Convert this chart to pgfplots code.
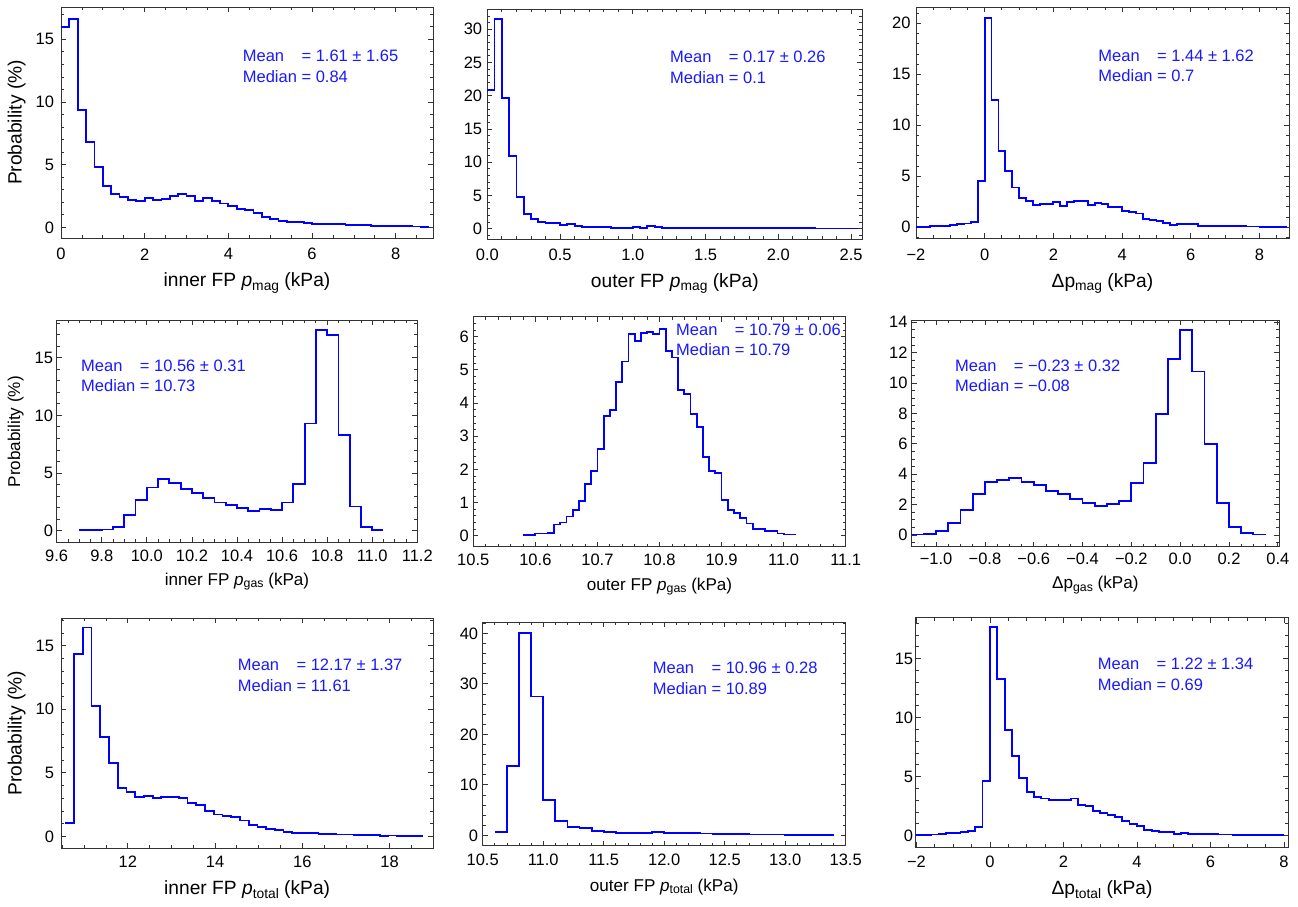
\documentclass[border=0pt]{standalone}
\usepackage{fontspec}
\setmainfont{Liberation Sans}
\usepackage{graphicx}
\usepackage{pgfplots}
\pgfplotsset{compat=1.18}
\definecolor{hblue}{RGB}{0,0,255}
\definecolor{tblue}{RGB}{25,25,255}
\newcommand{\sub}[1]{\raisebox{-0.3ex}{\scalebox{0.72}{#1}}}
\newcommand{\tk}{\fontsize{16.5}{19}\selectfont}
\newcommand{\lbA}{\fontsize{19.2}{23}\selectfont}
\newcommand{\lbB}{\fontsize{17.1}{20}\selectfont}
\tikzset{ann/.style={anchor=west, inner sep=0pt, text=tblue, font=\fontsize{16.5}{20.5}\selectfont}}
\pgfplotsset{
  hist/.style={
    scale only axis, clip=false,
    axis line style={black!80, line width=0.9pt},
    every tick/.style={black!80, line width=0.8pt},
    major tick length=5pt, minor tick length=3pt,
    tick align=inside,
    tick label style={font=\tk},
    /pgf/number format/assume math mode=true,
    yticklabel style={anchor=east, inner sep=0pt},
    xticklabel style={anchor=center, inner sep=0pt},
  },
  hst/.style={hblue, line width=1.8pt, const plot, mark=none},
}
\begin{document}
\begin{tikzpicture}
\useasboundingbox (0,0) rectangle (1298pt,906pt);
% ---------------- P1 ----------------
\begin{axis}[hist, at={(61pt,668pt)}, anchor=south west, width=372pt, height=231pt,
  xmin=0, xmax=8.89, ymin=-0.85, ymax=17.58,
  xtick={0,2,4,6,8}, xticklabels={0,2,4,6,8}, minor xtick={0,0.5,...,8.5},
  ytick={0,5,10,15}, minor ytick={0,1,...,17},
  xticklabel style={yshift=-16.3pt}, yticklabel style={xshift=-6.7pt},
  xlabel={inner FP \textit{p}\sub{mag} (kPa)},
  xlabel style={at={(axis description cs:0.5,-0.1948)}, anchor=center, font=\lbA},
  ylabel={Probability (\%)},
  ylabel style={at={(axis description cs:-0.119,0.5)}, anchor=center, font=\lbA}]
\addplot[hst] table {
0 16.0
0.2 16.65
0.4 9.36
0.6 6.8
0.8 4.84
1.0 3.3
1.2 2.63
1.4 2.42
1.6 2.18
1.8 2.13
2.0 2.37
2.2 2.18
2.4 2.29
2.6 2.5
2.8 2.66
3.0 2.53
3.2 2.13
3.4 2.34
3.6 2.07
3.8 1.91
4.0 1.68
4.2 1.49
4.4 1.38
4.6 1.14
4.8 0.85
5.0 0.69
5.2 0.53
5.4 0.45
5.6 0.43
5.8 0.37
6.0 0.27
6.2 0.29
6.4 0.24
6.6 0.24
6.8 0.16
7.0 0.21
7.2 0.16
7.4 0.13
7.6 0.12
7.8 0.1
8.0 0.08
8.2 0.08
8.4 0.06
8.6 0.05
8.8 0.05
};
\node[ann] at (rel axis cs:0.4884,0.736) {\begin{tabular}{@{}l@{\ }l@{}}Mean & = 1.61 ± 1.65\\ Median & = 0.84\end{tabular}};
\end{axis}
% ---------------- P2 ----------------
\begin{axis}[hist, at={(487.3pt,666.7pt)}, anchor=south west, width=375pt, height=230pt,
  xmin=0, xmax=2.577, ymin=-1.6, ymax=33.0,
  xtick={0,0.5,1,1.5,2,2.5}, xticklabels={0.0,0.5,1.0,1.5,2.0,2.5}, minor xtick={0,0.1,...,2.55},
  ytick={0,5,...,30}, minor ytick={-1,0,...,32},
  xticklabel style={yshift=-15.7pt}, yticklabel style={xshift=-5pt},
  xlabel={outer FP \textit{p}\sub{mag} (kPa)},
  xlabel style={at={(axis description cs:0.5,-0.1913)}, anchor=center, font=\lbA}]
\addplot[hst] table {
0 20.9
0.05 31.5
0.10 19.7
0.15 10.9
0.20 4.77
0.25 2.26
0.30 1.4
0.35 1.05
0.40 0.9
0.45 0.8
0.50 0.55
0.55 0.65
0.60 0.4
0.65 0.3
0.70 0.3
0.75 0.25
0.80 0.2
0.85 0.15
0.90 0.1
0.95 0.1
1.00 0.2
1.05 0.15
1.10 0.35
1.15 0.2
1.20 0.15
1.25 0.12
1.30 0.1
1.35 0.1
1.40 0.08
1.45 0.08
1.50 0.1
1.55 0.08
1.60 0.05
1.65 0.05
1.70 0.08
1.75 0.08
1.80 0.06
1.85 0.06
1.90 0.07
1.95 0.06
2.00 0.07
2.05 0.05
2.10 0.05
2.15 0.06
2.20 0.06
2.25 0.03
2.30 0.03
2.35 0.02
2.40 0.02
2.45 0.02
2.50 0.02
2.55 0.02
};
\node[ann] at (rel axis cs:0.4872,0.7404) {\begin{tabular}{@{}l@{\ }l@{}}Mean & = 0.17 ± 0.26\\ Median & = 0.1\end{tabular}};
\end{axis}
% ---------------- P3 ----------------
\begin{axis}[hist, at={(916pt,667.7pt)}, anchor=south west, width=373pt, height=231pt,
  xmin=-2, xmax=8.86, ymin=-1.08, ymax=21.57,
  xtick={-2,0,2,4,6,8}, xticklabels={−2,0,2,4,6,8}, minor xtick={-2,-1.5,...,8.5},
  ytick={0,5,...,20}, minor ytick={-1,0,...,21},
  xticklabel style={yshift=-16.7pt}, yticklabel style={xshift=-5.3pt},
  xlabel={Δp\sub{mag} (kPa)},
  xlabel style={at={(axis description cs:0.5,-0.1948)}, anchor=center, font=\lbA}]
\addplot[hst] table {
-2.0 0.05
-1.8 0.05
-1.6 0.1
-1.4 0.1
-1.2 0.15
-1.0 0.2
-0.8 0.3
-0.6 0.38
-0.4 0.55
-0.2 4.55
0.0 20.5
0.2 12.5
0.4 7.5
0.6 5.55
0.8 3.9
1.0 2.9
1.2 2.6
1.4 2.2
1.6 2.25
1.8 2.3
2.0 2.45
2.2 2.1
2.4 2.5
2.6 2.55
2.8 2.55
3.0 2.15
3.2 2.35
3.4 2.25
3.6 1.98
3.8 1.95
4.0 1.6
4.2 1.5
4.4 1.35
4.6 0.85
4.8 0.75
5.0 0.6
5.2 0.45
5.4 0.26
5.6 0.35
5.8 0.3
6.0 0.3
6.2 0.15
6.4 0.15
6.6 0.15
6.8 0.12
7.0 0.12
7.2 0.1
7.4 0.1
7.6 0.08
7.8 0.08
8.0 0.06
8.2 0.05
8.4 0.05
8.6 0.04
8.8 0.04
};
\node[ann] at (rel axis cs:0.4887,0.7394) {\begin{tabular}{@{}l@{\ }l@{}}Mean & = 1.44 ± 1.62\\ Median & = 0.7\end{tabular}};
\end{axis}
% ---------------- P4 ----------------
\begin{axis}[hist, at={(56.7pt,363.7pt)}, anchor=south west, width=360.6pt, height=222.3pt,
  xmin=9.6, xmax=11.2, ymin=-1.01, ymax=18.27,
  xtick={9.6,9.8,10,10.2,10.4,10.6,10.8,11,11.2}, xticklabels={9.6,9.8,10.0,10.2,10.4,10.6,10.8,11.0,11.2},
  minor xtick={9.6,9.65,...,11.2},
  ytick={0,5,10,15}, minor ytick={0,1,...,18},
  xticklabel style={yshift=-13.4pt}, yticklabel style={xshift=-3.4pt},
  xlabel={inner FP \textit{p}\sub{gas} (kPa)},
  xlabel style={at={(axis description cs:0.5,-0.1772)}, anchor=center, font=\lbB},
  ylabel={Probability (\%)},
  ylabel style={at={(axis description cs:-0.1137,0.4975)}, anchor=center, font=\lbB}]
\addplot[hst] table {
9.70 0.03
9.75 0.05
9.80 0.1
9.85 0.35
9.90 1.35
9.95 2.65
10.00 3.75
10.05 4.5
10.10 4.15
10.15 3.6
10.20 3.27
10.25 2.85
10.30 2.45
10.35 2.25
10.40 1.95
10.45 1.7
10.50 1.85
10.55 1.82
10.60 2.45
10.65 4.05
10.70 9.3
10.75 17.4
10.80 17.0
10.85 8.3
10.90 2.1
10.95 0.35
11.00 0.03
11.05 0.03
};
\node[ann] at (rel axis cs:0.0674,0.7422) {\begin{tabular}{@{}l@{\ }l@{}}Mean & = 10.56 ± 0.31\\ Median & = 10.73\end{tabular}};
\end{axis}
% ---------------- P5 ----------------
\begin{axis}[hist, at={(473.3pt,359.3pt)}, anchor=south west, width=372.4pt, height=230pt,
  xmin=10.5, xmax=11.1, ymin=-0.33, ymax=6.6,
  xtick={10.5,10.6,10.7,10.8,10.9,11,11.1}, xticklabels={10.5,10.6,10.7,10.8,10.9,11.0,11.1},
  minor xtick={10.5,10.52,...,11.1},
  ytick={0,1,...,6}, minor ytick={0,0.2,...,6.6},
  xticklabel style={yshift=-13.3pt}, yticklabel style={xshift=-4.3pt},
  xlabel={outer FP \textit{p}\sub{gas} (kPa)},
  xlabel style={at={(axis description cs:0.5,-0.1739)}, anchor=center, font=\lbB}]
\addplot[hst] table {
10.58 0.02
10.59 0.02
10.60 0.07
10.61 0.07
10.62 0.08
10.63 0.34
10.64 0.4
10.65 0.58
10.66 0.77
10.67 1.05
10.68 1.56
10.69 1.96
10.70 2.62
10.71 3.61
10.72 3.79
10.73 4.63
10.74 5.25
10.75 6.09
10.76 5.86
10.77 6.1
10.78 6.13
10.79 6.09
10.80 6.23
10.81 5.57
10.82 5.37
10.83 4.39
10.84 4.26
10.85 3.67
10.86 3.27
10.87 2.38
10.88 1.96
10.89 1.89
10.90 1.08
10.91 0.78
10.92 0.69
10.93 0.53
10.94 0.37
10.95 0.2
10.96 0.21
10.97 0.14
10.98 0.15
10.99 0.07
11.00 0.04
11.01 0.04
11.02 0.04
};
\node[ann] at (rel axis cs:0.5443,0.893) {\begin{tabular}{@{}l@{\ }l@{}}Mean & = 10.79 ± 0.06\\ Median & = 10.79\end{tabular}};
\end{axis}
% ---------------- P6 ----------------
\begin{axis}[hist, at={(911.7pt,359.3pt)}, anchor=south west, width=367.3pt, height=226.7pt,
  xmin=-1.1, xmax=0.405, ymin=-0.77, ymax=14.14,
  xtick={-1,-0.8,-0.6,-0.4,-0.2,0,0.2,0.4}, xticklabels={−1.0,−0.8,−0.6,−0.4,−0.2,0.0,0.2,0.4},
  minor xtick={-1.1,-1.05,...,0.4},
  ytick={0,2,...,14}, minor ytick={-0.5,0,...,14},
  xticklabel style={yshift=-11.7pt}, yticklabel style={xshift=-4pt},
  xlabel={Δp\sub{gas} (kPa)},
  xlabel style={at={(axis description cs:0.5,-0.169)}, anchor=center, font=\lbB}]
\addplot[hst] table {
-1.10 0.03
-1.05 0.08
-1.00 0.28
-0.95 0.8
-0.90 1.65
-0.85 2.72
-0.80 3.46
-0.75 3.62
-0.70 3.73
-0.65 3.49
-0.60 3.27
-0.55 2.89
-0.50 2.7
-0.45 2.35
-0.40 2.13
-0.35 1.93
-0.30 2.04
-0.25 2.26
-0.20 3.4
-0.15 4.76
-0.10 7.96
-0.05 11.56
0.00 13.49
0.05 10.75
0.10 5.99
0.15 2.13
0.20 0.5
0.25 0.13
0.30 0.03
0.35 0.03
};
\node[ann] at (rel axis cs:0.1179,0.7459) {\begin{tabular}{@{}l@{\ }l@{}}Mean & = −0.23 ± 0.32\\ Median & = −0.08\end{tabular}};
\end{axis}
% ---------------- P7 ----------------
\begin{axis}[hist, at={(61pt,57.7pt)}, anchor=south west, width=372.3pt, height=230pt,
  xmin=10.47, xmax=19.0, ymin=-0.94, ymax=17.15,
  xtick={12,14,16,18}, xticklabels={12,14,16,18}, minor xtick={10.5,11,...,19},
  ytick={0,5,10,15}, minor ytick={0,1,...,17},
  xticklabel style={yshift=-13.4pt}, yticklabel style={xshift=-6.7pt},
  xlabel={inner FP \textit{p}\sub{total} (kPa)},
  xlabel style={at={(axis description cs:0.5,-0.1813)}, anchor=center, font=\lbA},
  ylabel={Probability (\%)},
  ylabel style={at={(axis description cs:-0.119,0.5)}, anchor=center, font=\lbA}]
\addplot[hst] table {
10.57 1.06
10.77 14.37
10.97 16.43
11.17 10.26
11.37 7.8
11.57 5.77
11.77 3.78
11.97 3.49
12.17 3.12
12.37 3.17
12.57 3.02
12.77 3.07
12.97 3.12
13.17 3.04
13.37 2.65
13.57 2.46
13.77 2.01
13.97 1.72
14.17 1.61
14.37 1.53
14.57 1.24
14.77 0.9
14.97 0.73
15.17 0.58
15.37 0.5
15.57 0.37
15.77 0.29
15.97 0.26
16.17 0.24
16.37 0.18
16.57 0.18
16.77 0.15
16.97 0.14
17.17 0.12
17.37 0.1
17.57 0.08
17.77 0.05
17.97 0.06
18.17 0.04
18.37 0.03
18.57 0.02
18.77 0.02
};
\node[ann] at (rel axis cs:0.4746,0.7448) {\begin{tabular}{@{}l@{\ }l@{}}Mean & = 12.17 ± 1.37\\ Median & = 11.61\end{tabular}};
\end{axis}
% ---------------- P8 ----------------
\begin{axis}[hist, at={(482.7pt,60.3pt)}, anchor=south west, width=363pt, height=223.4pt,
  xmin=10.5, xmax=13.5, ymin=-2.05, ymax=42.2,
  xtick={10.5,11,11.5,12,12.5,13,13.5}, xticklabels={10.5,11.0,11.5,12.0,12.5,13.0,13.5},
  minor xtick={10.5,10.6,...,13.5},
  ytick={0,10,...,40}, minor ytick={-2,0,...,42},
  xticklabel style={yshift=-14.3pt}, yticklabel style={xshift=-4.4pt},
  xlabel={outer FP \textit{p}\sub{total} (kPa)},
  xlabel style={at={(axis description cs:0.5,-0.1835)}, anchor=center, font=\lbB}]
\addplot[hst] table {
10.6 0.66
10.7 13.66
10.8 40.1
10.9 27.5
11.0 6.93
11.1 2.84
11.2 1.65
11.3 1.39
11.4 0.92
11.5 0.73
11.6 0.46
11.7 0.45
11.8 0.5
11.9 0.6
12.0 0.45
12.1 0.4
12.2 0.4
12.3 0.35
12.4 0.2
12.5 0.22
12.6 0.2
12.7 0.18
12.8 0.15
12.9 0.15
13.0 0.12
13.1 0.1
13.2 0.1
13.3 0.05
13.4 0.05
};
\node[ann] at (rel axis cs:0.4683,0.743) {\begin{tabular}{@{}l@{\ }l@{}}Mean & = 10.96 ± 0.28\\ Median & = 10.89\end{tabular}};
\end{axis}
% ---------------- P9 ----------------
\begin{axis}[hist, at={(915.7pt,58.7pt)}, anchor=south west, width=372.6pt, height=229.6pt,
  xmin=-2.02, xmax=8.12, ymin=-0.99, ymax=18.47,
  xtick={-2,0,2,4,6,8}, xticklabels={−2,0,2,4,6,8}, minor xtick={-2,-1.5,...,8},
  ytick={0,5,10,15}, minor ytick={0,1,...,18},
  xticklabel style={yshift=-14.4pt}, yticklabel style={xshift=-2.4pt},
  xlabel={Δp\sub{total} (kPa)},
  xlabel style={at={(axis description cs:0.5,-0.186)}, anchor=center, font=\lbA}]
\addplot[hst] table {
-2.0 0.05
-1.8 0.06
-1.6 0.1
-1.4 0.12
-1.2 0.2
-1.0 0.22
-0.8 0.28
-0.6 0.38
-0.4 0.7
-0.2 4.63
0.0 17.65
0.2 13.28
0.4 8.95
0.6 6.72
0.8 4.86
1.0 3.73
1.2 3.25
1.4 3.14
1.6 3.05
1.8 3.05
2.0 3.02
2.2 3.14
2.4 2.6
2.6 2.51
2.8 2.12
3.0 1.95
3.2 1.72
3.4 1.58
3.6 1.27
3.8 0.99
4.0 0.79
4.2 0.45
4.4 0.37
4.6 0.34
4.8 0.28
5.0 0.17
5.2 0.25
5.4 0.17
5.6 0.15
5.8 0.13
6.0 0.12
6.2 0.1
6.4 0.1
6.6 0.08
6.8 0.08
7.0 0.06
7.2 0.05
7.4 0.04
7.6 0.03
7.8 0.02
8.0 0.02
};
\node[ann] at (rel axis cs:0.4885,0.7461) {\begin{tabular}{@{}l@{\ }l@{}}Mean & = 1.22 ± 1.34\\ Median & = 0.69\end{tabular}};
\end{axis}
\end{tikzpicture}
\end{document}
